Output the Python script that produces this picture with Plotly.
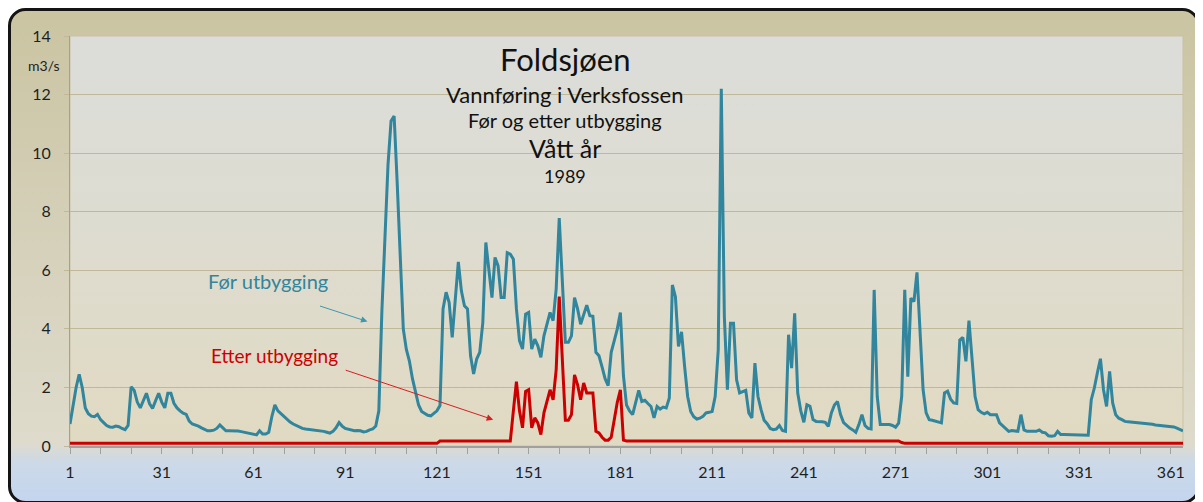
import base64
import plotly.graph_objects as go

# ── Data: daily discharge in Verksfossen, wet year 1989 (m3/s) ──────────────
DAYS = list(range(1, 366))

# before the development (teal line)
FOR_UTBYGGING = [
    0.75, 1.40, 2.00, 2.45, 2.00, 1.30, 1.10, 1.02, 1.00, 1.08,   # 1-10
    0.90, 0.80, 0.70, 0.65, 0.64, 0.68, 0.66, 0.60, 0.56, 0.70,   # 11-20
    2.02, 1.90, 1.50, 1.30, 1.55, 1.80, 1.45, 1.28, 1.55, 1.80,   # 21-30
    1.50, 1.30, 1.80, 1.80, 1.46, 1.30, 1.20, 1.12, 1.08, 0.85,   # 31-40
    0.75, 0.72, 0.68, 0.62, 0.56, 0.52, 0.52, 0.54, 0.60, 0.72,   # 41-50
    0.62, 0.52, 0.52, 0.52, 0.52, 0.51, 0.49, 0.47, 0.44, 0.42,   # 51-60
    0.39, 0.38, 0.52, 0.41, 0.41, 0.47, 1.00, 1.40, 1.20, 1.10,   # 61-70
    1.00, 0.92, 0.82, 0.75, 0.70, 0.65, 0.60, 0.58, 0.57, 0.56,   # 71-80
    0.55, 0.54, 0.52, 0.50, 0.47, 0.44, 0.50, 0.62, 0.80, 0.68,   # 81-90
    0.60, 0.57, 0.55, 0.52, 0.53, 0.52, 0.48, 0.50, 0.55, 0.58,   # 91-100
    0.68, 1.20, 4.60, 7.00, 9.60, 11.10, 11.27, 9.00, 6.30, 4.00, # 101-110
    3.30, 2.90, 2.30, 1.80, 1.40, 1.18, 1.10, 1.05, 1.03, 1.10,   # 111-120
    1.20, 1.38, 4.68, 5.25, 4.90, 3.71, 5.00, 6.29, 5.30, 4.79,   # 121-130
    4.68, 3.08, 2.46, 2.97, 3.20, 4.20, 6.95, 5.90, 5.07, 6.44,   # 131-140
    6.15, 5.07, 5.07, 6.60, 6.55, 6.38, 4.68, 3.60, 3.31, 4.50,   # 141-150
    4.56, 3.31, 3.65, 3.42, 3.03, 3.76, 4.20, 4.56, 4.28, 5.36,   # 151-160
    7.78, 5.59, 3.54, 3.54, 3.76, 5.07, 4.68, 4.16, 4.50, 4.81,   # 161-170
    4.45, 4.43, 3.20, 3.08, 2.70, 2.30, 2.06, 3.20, 3.60, 4.00,   # 171-180
    4.56, 2.40, 1.40, 1.20, 1.07, 1.50, 1.90, 1.52, 1.56, 1.45,   # 181-190
    1.35, 0.96, 1.35, 1.26, 1.33, 1.30, 1.64, 5.50, 5.10, 3.40,   # 191-200
    3.90, 2.72, 1.69, 1.18, 1.00, 0.92, 0.95, 1.01, 1.13, 1.15,   # 201-210
    1.18, 1.69, 3.28, 12.20, 4.42, 1.92, 4.19, 4.19, 2.26, 1.81,  # 211-220
    1.85, 1.90, 1.13, 0.96, 2.83, 1.69, 1.24, 0.88, 0.76, 0.60,   # 221-230
    0.56, 0.58, 0.70, 0.53, 0.50, 3.80, 2.66, 4.53, 1.81, 1.20,   # 231-240
    0.81, 1.41, 1.36, 0.90, 0.84, 0.84, 0.83, 0.81, 0.67, 1.13,   # 241-250
    1.40, 1.52, 1.07, 0.80, 0.70, 0.61, 0.55, 0.47, 0.73, 1.07,   # 251-260
    0.70, 0.60, 0.58, 5.33, 1.69, 0.73, 0.73, 0.73, 0.73, 0.70,   # 261-270
    0.64, 0.78, 1.69, 5.33, 2.37, 5.05, 4.93, 5.93, 3.85, 1.92,   # 271-280
    1.13, 0.90, 0.88, 0.85, 0.82, 0.79, 1.81, 1.87, 1.60, 1.47,   # 281-290
    1.45, 3.62, 3.71, 2.89, 4.28, 3.06, 1.69, 1.24, 1.15, 1.10,   # 291-300
    1.15, 1.07, 1.07, 1.07, 0.79, 0.70, 0.61, 0.50, 0.53, 0.52,   # 301-310
    0.50, 1.07, 0.55, 0.50, 0.50, 0.50, 0.50, 0.55, 0.47, 0.45,   # 311-320
    0.35, 0.33, 0.35, 0.50, 0.39, 0.39, 0.39, 0.39, 0.38, 0.38,   # 321-330
    0.37, 0.37, 0.37, 0.37, 1.58, 1.98, 2.50, 2.98, 1.92, 1.35,   # 331-340
    2.55, 1.47, 1.07, 0.95, 0.90, 0.84, 0.83, 0.82, 0.81, 0.81,   # 341-350
    0.80, 0.78, 0.77, 0.75, 0.74, 0.72, 0.71, 0.70, 0.69, 0.68,   # 351-360
    0.67, 0.65, 0.61, 0.57, 0.52,                                 # 361-365
]

# after the development (red line)
ETTER_UTBYGGING = [
    0.09, 0.09, 0.09, 0.09, 0.09, 0.09, 0.09, 0.09, 0.09, 0.09,   # 1-10
    0.09, 0.09, 0.09, 0.09, 0.09, 0.09, 0.09, 0.09, 0.09, 0.09,   # 11-20
    0.09, 0.09, 0.09, 0.09, 0.09, 0.09, 0.09, 0.09, 0.09, 0.09,   # 21-30
    0.09, 0.09, 0.09, 0.09, 0.09, 0.09, 0.09, 0.09, 0.09, 0.09,   # 31-40
    0.09, 0.09, 0.09, 0.09, 0.09, 0.09, 0.09, 0.09, 0.09, 0.09,   # 41-50
    0.09, 0.09, 0.09, 0.09, 0.09, 0.09, 0.09, 0.09, 0.09, 0.09,   # 51-60
    0.09, 0.09, 0.09, 0.09, 0.09, 0.09, 0.09, 0.09, 0.09, 0.09,   # 61-70
    0.09, 0.09, 0.09, 0.09, 0.09, 0.09, 0.09, 0.09, 0.09, 0.09,   # 71-80
    0.09, 0.09, 0.09, 0.09, 0.09, 0.09, 0.09, 0.09, 0.09, 0.09,   # 81-90
    0.09, 0.09, 0.09, 0.09, 0.09, 0.09, 0.09, 0.09, 0.09, 0.09,   # 91-100
    0.09, 0.09, 0.09, 0.09, 0.09, 0.09, 0.09, 0.09, 0.09, 0.09,   # 101-110
    0.09, 0.09, 0.09, 0.09, 0.09, 0.09, 0.09, 0.09, 0.09, 0.09,   # 111-120
    0.09, 0.17, 0.17, 0.17, 0.17, 0.17, 0.17, 0.17, 0.17, 0.17,   # 121-130
    0.17, 0.17, 0.17, 0.17, 0.17, 0.17, 0.17, 0.17, 0.17, 0.17,   # 131-140
    0.17, 0.17, 0.17, 0.17, 0.17, 1.20, 2.20, 1.20, 0.62, 1.86,   # 141-150
    1.92, 0.62, 0.96, 0.79, 0.39, 1.13, 1.50, 1.92, 1.58, 2.60,   # 151-160
    5.10, 3.06, 0.88, 0.88, 1.07, 2.43, 2.09, 1.58, 2.15, 1.81,   # 161-170
    1.81, 1.81, 0.50, 0.45, 0.30, 0.20, 0.20, 0.30, 0.90, 1.50,   # 171-180
    1.92, 0.20, 0.17, 0.17, 0.17, 0.17, 0.17, 0.17, 0.17, 0.17,   # 181-190
    0.17, 0.17, 0.17, 0.17, 0.17, 0.17, 0.17, 0.17, 0.17, 0.17,   # 191-200
    0.17, 0.17, 0.17, 0.17, 0.17, 0.17, 0.17, 0.17, 0.17, 0.17,   # 201-210
    0.17, 0.17, 0.17, 0.17, 0.17, 0.17, 0.17, 0.17, 0.17, 0.17,   # 211-220
    0.17, 0.17, 0.17, 0.17, 0.17, 0.17, 0.17, 0.17, 0.17, 0.17,   # 221-230
    0.17, 0.17, 0.17, 0.17, 0.17, 0.17, 0.17, 0.17, 0.17, 0.17,   # 231-240
    0.17, 0.17, 0.17, 0.17, 0.17, 0.17, 0.17, 0.17, 0.17, 0.17,   # 241-250
    0.17, 0.17, 0.17, 0.17, 0.17, 0.17, 0.17, 0.17, 0.17, 0.17,   # 251-260
    0.17, 0.17, 0.17, 0.17, 0.17, 0.17, 0.17, 0.17, 0.17, 0.17,   # 261-270
    0.17, 0.17, 0.12, 0.09, 0.09, 0.09, 0.09, 0.09, 0.09, 0.09,   # 271-280
    0.09, 0.09, 0.09, 0.09, 0.09, 0.09, 0.09, 0.09, 0.09, 0.09,   # 281-290
    0.09, 0.09, 0.09, 0.09, 0.09, 0.09, 0.09, 0.09, 0.09, 0.09,   # 291-300
    0.09, 0.09, 0.09, 0.09, 0.09, 0.09, 0.09, 0.09, 0.09, 0.09,   # 301-310
    0.09, 0.09, 0.09, 0.09, 0.09, 0.09, 0.09, 0.09, 0.09, 0.09,   # 311-320
    0.09, 0.09, 0.09, 0.09, 0.09, 0.09, 0.09, 0.09, 0.09, 0.09,   # 321-330
    0.09, 0.09, 0.09, 0.09, 0.09, 0.09, 0.09, 0.09, 0.09, 0.09,   # 331-340
    0.09, 0.09, 0.09, 0.09, 0.09, 0.09, 0.09, 0.09, 0.09, 0.09,   # 341-350
    0.09, 0.09, 0.09, 0.09, 0.09, 0.09, 0.09, 0.09, 0.09, 0.09,   # 351-360
    0.09, 0.09, 0.09, 0.09, 0.09,                                 # 361-365
]

# x ticks every 10 days, labelled every 30
TICK_DAYS = [1, 11, 21, 31, 41, 51, 61, 71, 81, 91, 101, 111, 121, 131, 141,
             151, 161, 171, 181, 191, 201, 211, 221, 231, 241, 251, 261, 271,
             281, 291, 301, 311, 321, 331, 341, 351, 361]
TICK_TEXT = ["1", "", "", "31", "", "", "61", "", "", "91", "", "", "121", "", "",
             "151", "", "", "181", "", "", "211", "", "", "241", "", "", "271",
             "", "", "301", "", "", "331", "", "", "361"]

# ── Colours / geometry ──────────────────────────────────────────────────────
TEAL = "#31859C"
RED = "#CC0000"
GRID = "#BFB899"
AXIS = "#A0A0A0"
FONT = "Lato"

# the page body has an 8px margin, so the figure is drawn 8px in from the window
OFF = 8
W, H = 1203 - OFF, 502 - OFF
L, R, T, B = 70 - OFF, 20, 36 - OFF, 56
PW, PH = W - L - R, H - T - B


def px_x(x):
    """window pixel x -> paper coordinate"""
    return (x - OFF - L) / PW


def px_y(y):
    """window pixel y -> paper coordinate"""
    return (H - B - (y - OFF)) / PH


def background():
    """Excel-style gradient chart area + plot area, as an inline SVG."""
    svg = f"""<svg xmlns="http://www.w3.org/2000/svg" width="{W}" height="{H}" viewBox="0 0 {W} {H}">
<defs>
<linearGradient id="c" x1="0" y1="0" x2="0" y2="1">
<stop offset="0" stop-color="#CAC4A1"/>
<stop offset="0.3" stop-color="#D1CCB1"/>
<stop offset="0.6" stop-color="#D8D4C0"/>
<stop offset="0.88" stop-color="#DEDBCC"/>
<stop offset="0.92" stop-color="#CCD9E8"/>
<stop offset="1" stop-color="#C3D5EE"/>
</linearGradient>
<linearGradient id="p" x1="0" y1="0" x2="0" y2="1">
<stop offset="0" stop-color="#DCDCDA"/>
<stop offset="0.5" stop-color="#DEDCD0"/>
<stop offset="1" stop-color="#E1DAC2"/>
</linearGradient>
</defs>
<rect x="1.5" y="1.5" width="{W - 6}" height="{H - 1}" rx="16" ry="16" fill="url(#c)" stroke="#141414" stroke-width="3"/>
<rect x="{L}" y="{T}" width="{PW}" height="{PH}" fill="url(#p)" stroke="#C9C2A3" stroke-width="1"/>
</svg>"""
    return "data:image/svg+xml;base64," + base64.b64encode(svg.encode("utf-8")).decode()


fig = go.Figure()

fig.add_trace(go.Scatter(
    x=DAYS, y=FOR_UTBYGGING, mode="lines",
    line=dict(color=TEAL, width=3), name="Før utbygging",
))
fig.add_trace(go.Scatter(
    x=DAYS, y=ETTER_UTBYGGING, mode="lines",
    line=dict(color=RED, width=3), name="Etter utbygging",
))

# title block (text, size, window y of centre)
TITLES = [
    ("Foldsjøen", 31, 59),
    ("Vannføring i Verksfossen", 22, 94),
    ("Før og etter utbygging", 20, 120),
    ("Vått år", 25, 148),
    ("1989", 18, 176),
]
for text, size, ypx in TITLES:
    fig.add_annotation(
        xref="paper", yref="paper", x=px_x(565), y=px_y(ypx),
        text=text, showarrow=False, xanchor="center", yanchor="middle",
        font=dict(family=FONT, size=size, color="#111111"),
    )

# unit label
fig.add_annotation(
    xref="paper", yref="paper", x=px_x(44), y=px_y(66),
    text="m3/s", showarrow=False, xanchor="center", yanchor="middle",
    font=dict(family=FONT, size=14, color="#222222"),
)

# series labels with arrows
fig.add_annotation(x=65.8, y=5.64, text="Før utbygging", showarrow=False,
                   font=dict(family=FONT, size=20, color=TEAL))
fig.add_annotation(x=98.3, y=4.25, text="", showarrow=True, ax=-49, ay=-16,
                   arrowhead=2, arrowsize=1.3, arrowwidth=1, arrowcolor="#3E97B0", standoff=0)
fig.add_annotation(x=67.9, y=3.08, text="Etter utbygging", showarrow=False,
                   font=dict(family=FONT, size=19, color=RED))
fig.add_annotation(x=139.4, y=0.9, text="", showarrow=True, ax=-149, ay=-50,
                   arrowhead=2, arrowsize=1.3, arrowwidth=1, arrowcolor="#D42020", standoff=0)

fig.update_xaxes(
    range=[1, 365], tickmode="array", tickvals=TICK_DAYS, ticktext=TICK_TEXT,
    ticks="outside", ticklen=6, tickcolor=AXIS, showgrid=False, zeroline=False,
    showline=True, linecolor=AXIS, linewidth=1.5, ticklabelstandoff=5,
    tickfont=dict(family=FONT, size=16, color="#1F1F1F"),
)
fig.update_yaxes(
    range=[0, 14], dtick=2, ticks="outside", ticklen=5, tickcolor=GRID,
    showgrid=True, gridcolor=GRID, gridwidth=1, zeroline=False,
    showline=True, linecolor=AXIS, linewidth=1, ticklabelstandoff=10,
    tickfont=dict(family=FONT, size=16, color="#1F1F1F"),
)

fig.update_layout(
    width=W, height=H,
    margin=dict(l=L, r=R, t=T, b=B, autoexpand=False),
    paper_bgcolor="white",
    plot_bgcolor="rgba(0,0,0,0)",
    showlegend=False,
    images=[dict(
        source=background(), xref="paper", yref="paper",
        x=-L / PW, y=1 + T / PH, sizex=W / PW, sizey=H / PH,
        xanchor="left", yanchor="top", sizing="stretch", layer="below",
    )],
)

fig.write_html("out.html")
